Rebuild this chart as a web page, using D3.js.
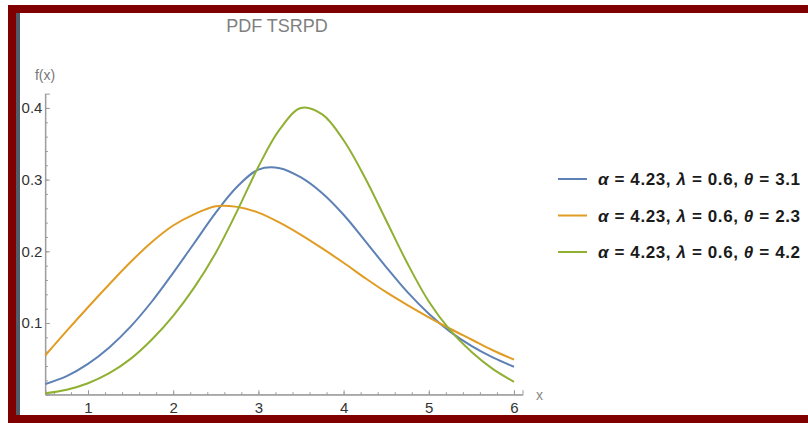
<!DOCTYPE html>
<html>
<head>
<meta charset="utf-8">
<script src="https://cdn.jsdelivr.net/npm/d3@7"></script>
<style>
  body { margin: 0; background: #fff; }
  text { font-family: "Liberation Sans", Arial, sans-serif; }
</style>
</head>
<body>
<svg id="chart" width="808" height="423"></svg>
<script>
const xs = [0.5, 0.75, 1, 1.25, 1.5, 1.75, 2, 2.25, 2.5, 2.75, 3, 3.25, 3.5, 3.75, 4, 4.25, 4.5, 4.75, 5, 5.25, 5.5, 5.75, 6];
const blueVals = [0.015, 0.026, 0.043, 0.066, 0.095, 0.130, 0.170, 0.212, 0.254, 0.290, 0.314, 0.316, 0.303, 0.281, 0.251, 0.215, 0.178, 0.143, 0.113, 0.088, 0.068, 0.052, 0.039];
const orangeVals = [0.055, 0.089, 0.122, 0.154, 0.185, 0.213, 0.236, 0.252, 0.263, 0.262, 0.254, 0.240, 0.223, 0.204, 0.184, 0.163, 0.143, 0.125, 0.108, 0.092, 0.077, 0.062, 0.049];
const greenVals = [0.002, 0.007, 0.016, 0.030, 0.050, 0.077, 0.110, 0.150, 0.198, 0.256, 0.318, 0.370, 0.400, 0.391, 0.355, 0.303, 0.243, 0.183, 0.130, 0.090, 0.060, 0.036, 0.018];
const labels = ["3.1", "2.3", "4.2"];
const colors = ["#5e81b5", "#e19c24", "#8fb032"];
const yTicks = [0.1, 0.2, 0.3, 0.4];
const xTicks = [1, 2, 3, 4, 5, 6];

const series = [blueVals, orangeVals, greenVals].map((vals, i) =>
  ({theta: labels[i], color: colors[i], points: xs.map((x, j) => ({x, y: vals[j]}))}));

const svg = d3.select("#chart");

// frame
svg.append("rect").attr("x", 8).attr("y", 5).attr("width", 800).attr("height", 8).attr("fill", "#800000");
svg.append("rect").attr("x", 8).attr("y", 5).attr("width", 8).attr("height", 418).attr("fill", "#800000");
svg.append("rect").attr("x", 8).attr("y", 415).attr("width", 800).attr("height", 8).attr("fill", "#800000");
svg.append("rect").attr("x", 16).attr("y", 13).attr("width", 4).attr("height", 402).attr("fill", "#4f5d6b");

const x = d3.scaleLinear().domain([0.5, 6.1]).range([45.4, 522.5]);
const y = d3.scaleLinear().domain([0, 0.42]).range([394.7, 93.6]);

const axisColor = "#9a9a9a";

// x axis
const gx = svg.append("g").attr("transform", `translate(0,${y(0)})`);
gx.call(d3.axisBottom(x).tickValues(d3.range(0.6, 6.01, 0.2)).tickSize(-2.5).tickFormat(""));
gx.call(g => g.select(".domain").remove());
gx.append("g").call(d3.axisBottom(x).tickValues(xTicks).tickSize(-4.5).tickFormat(d3.format("d")).tickPadding(8));
gx.selectAll("line").attr("stroke", axisColor);
gx.selectAll(".domain").attr("stroke", axisColor);
gx.selectAll("text").attr("fill", "#333").attr("font-size", 15);

// y axis
const gy = svg.append("g").attr("transform", `translate(${x(0.5)},0)`);
gy.call(d3.axisLeft(y).tickValues(d3.range(0.02, 0.42, 0.02)).tickSize(-2.5).tickFormat(""));
gy.call(g => g.select(".domain").remove());
gy.append("g").call(d3.axisLeft(y).tickValues(yTicks).tickSize(-4.5).tickFormat(d3.format(".1f")).tickPadding(3));
gy.selectAll("line").attr("stroke", axisColor);
gy.selectAll(".domain").attr("stroke", axisColor);
gy.selectAll("text").attr("fill", "#333").attr("font-size", 15);

// axis lines
svg.append("line").attr("x1", x(0.5)).attr("x2", x(6.1)).attr("y1", y(0)).attr("y2", y(0)).attr("stroke", axisColor);
svg.append("line").attr("x1", x(0.5)).attr("x2", x(0.5)).attr("y1", y(0)).attr("y2", y(0.42)).attr("stroke", axisColor);

svg.append("text").attr("x", 536).attr("y", 400).attr("fill", "#888").attr("font-size", 14).text("x");
svg.append("text").attr("x", 45).attr("y", 80).attr("text-anchor", "middle").attr("fill", "#777").attr("font-size", 14).text("f(x)");
svg.append("text").attr("x", 277).attr("y", 32).attr("text-anchor", "middle").attr("fill", "#7f7f7f").attr("font-size", 18).text("PDF TSRPD");

const line = d3.line().x(d => x(d.x)).y(d => y(d.y)).curve(d3.curveCatmullRom.alpha(0.5));

svg.selectAll("path.curve")
  .data(series)
  .enter().append("path")
  .attr("class", "curve")
  .attr("d", d => line(d.points))
  .attr("fill", "none")
  .attr("stroke", d => d.color)
  .attr("stroke-width", 2);

// legend
const leg = svg.selectAll("g.leg")
  .data(series)
  .enter().append("g")
  .attr("class", "leg")
  .attr("transform", (d, i) => `translate(558,${179 + i * 36.5})`);

leg.append("line").attr("x1", 0).attr("x2", 29).attr("stroke", d => d.color).attr("stroke-width", 2);

const lt = leg.append("text").attr("x", 40).attr("y", 6).attr("font-size", 17).attr("font-weight", "bold").attr("fill", "#1a1a1a")
  .attr("textLength", 202).attr("lengthAdjust", "spacing");
lt.append("tspan").attr("font-style", "italic").text("α");
lt.append("tspan").text(" = 4.23, ");
lt.append("tspan").attr("font-style", "italic").text("λ");
lt.append("tspan").text(" = 0.6, ");
lt.append("tspan").attr("font-style", "italic").text("θ");
lt.append("tspan").text(d => " = " + d.theta);
</script>
</body>
</html>
